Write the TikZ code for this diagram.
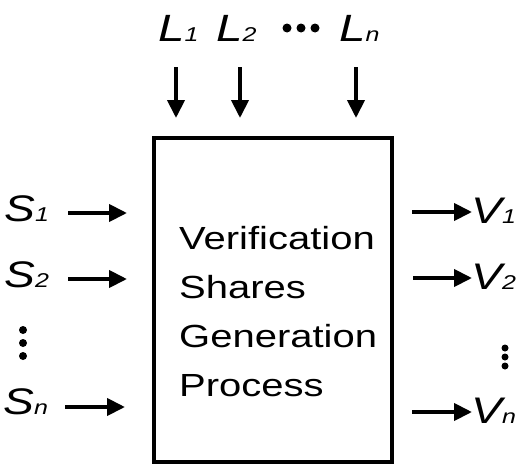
\documentclass[tikz,border=0pt]{standalone}
\usepackage{fontspec}
\setmainfont{Liberation Sans}[FakeStretch=1.25]
\usetikzlibrary{arrows.meta}
\newcommand{\subtxt}[1]{{\fontsize{20}{20}\selectfont #1}}
\begin{document}
\begin{tikzpicture}[x=1pt,y=-1pt,
  arr/.style={line width=4pt, -{Triangle[length=18pt,width=17pt]}},
  lab/.style={inner sep=0pt, anchor=base west, font=\fontsize{37}{37}\selectfont\itshape},
  llab/.style={lab, font=\fontsize{38}{38}\selectfont\itshape},
  dot/.style={fill=black}]
\useasboundingbox (0,0) rectangle (519,466);
% box
\node[draw, line width=3.5pt, minimum width=238pt, minimum height=324pt, inner sep=0pt] (box) at (273,300) {};
\node[inner sep=0pt, anchor=north west, align=left, font=\fontsize{32}{49}\selectfont] (proc) at (179,226.5)
  {Verification\\Shares\\Generation\\Process};
% top labels
\node[llab] (l1) at (158,41) {L\subtxt{1}};
\node[llab] (l2) at (216,41) {L\subtxt{2}};
\node[llab] (ln) at (339,41) {L\subtxt{n}};
\fill[dot] (287,28) circle (4.5) (301,28) circle (4.5) (315,28) circle (4.5);
\coordinate (l1a) at (176,67); \coordinate (l1b) at (176,118);
\coordinate (l2a) at (240,67); \coordinate (l2b) at (240,118);
\coordinate (lna) at (356,67); \coordinate (lnb) at (356,118);
\draw[arr] (l1a) -- (l1b);
\draw[arr] (l2a) -- (l2b);
\draw[arr] (lna) -- (lnb);
% left labels
\node[lab] (s1) at (4,221) {S\subtxt{1}};
\node[lab] (s2) at (4,287) {S\subtxt{2}};
\node[lab] (sn) at (3,414) {S\subtxt{n}};
\fill[dot] (23,330) circle (4) (23,343) circle (4) (23,356) circle (4);
\coordinate (s1a) at (68,213); \coordinate (s1b) at (127,213);
\coordinate (s2a) at (68,279); \coordinate (s2b) at (127,279);
\coordinate (sna) at (65,407); \coordinate (snb) at (125,407);
\draw[arr] (s1a) -- (s1b);
\draw[arr] (s2a) -- (s2b);
\draw[arr] (sna) -- (snb);
% right labels
\node[lab] (v1) at (471,223) {V\subtxt{1}};
\node[lab] (v2) at (471,289) {V\subtxt{2}};
\node[lab] (vn) at (471,423) {V\subtxt{n}};
\fill[dot] (505,348) circle (3.5) (505,357) circle (3.5) (505,366) circle (3.5);
\coordinate (v1a) at (412,212); \coordinate (v1b) at (472,212);
\coordinate (v2a) at (413,278); \coordinate (v2b) at (472,278);
\coordinate (vna) at (412,412); \coordinate (vnb) at (472,412);
\draw[arr] (v1a) -- (v1b);
\draw[arr] (v2a) -- (v2b);
\draw[arr] (vna) -- (vnb);
\end{tikzpicture}
\end{document}
